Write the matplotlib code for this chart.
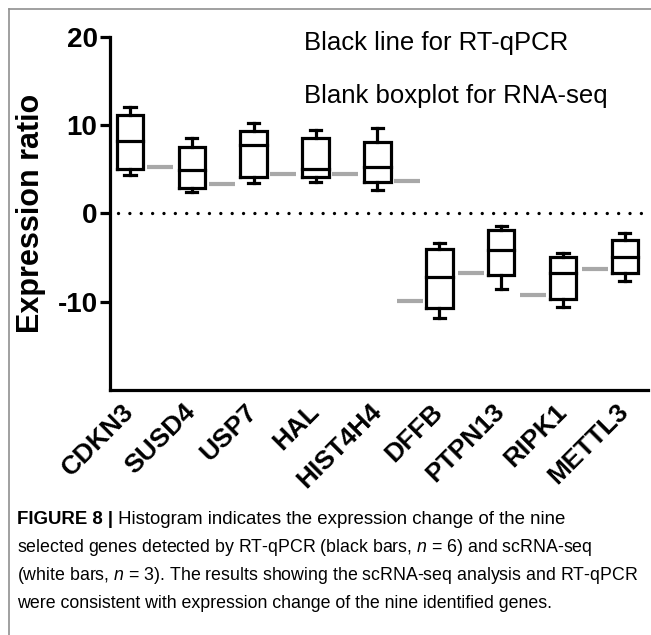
import matplotlib
matplotlib.use("Agg")
import matplotlib.pyplot as plt
from matplotlib import font_manager
from matplotlib.lines import Line2D

genes = ["CDKN3", "SUSD4", "USP7", "HAL", "HIST4H4", "DFFB", "PTPN13", "RIPK1", "METTL3"]
# RNA-seq boxplot stats
whis_hi = [12.1, 8.5, 10.2, 9.5, 9.7, -3.4, -1.4, -4.5, -2.2]
q3 = [11.2, 7.5, 9.3, 8.5, 8.1, -4.0, -1.9, -5.0, -3.0]
med = [8.2, 4.9, 7.7, 5.0, 5.2, -7.2, -4.1, -6.8, -4.9]
q1 = [5.0, 2.9, 4.1, 4.1, 3.5, -10.7, -7.0, -9.7, -6.8]
whis_lo = [4.4, 2.4, 3.4, 3.6, 2.7, -11.8, -8.6, -10.6, -7.7]
# RT-qPCR line values
qpcr = [5.3, 3.3, 4.5, 4.5, 3.7, -9.9, -6.8, -9.2, -6.3]

names = {f.name for f in font_manager.fontManager.ttflist}
cap_font = "Liberation Sans Narrow" if "Liberation Sans Narrow" in names else "Liberation Sans"
plt.rcParams["font.family"] = ["Liberation Sans", "DejaVu Sans"]
plt.rcParams["axes.unicode_minus"] = False
plt.rcParams["mathtext.fontset"] = "custom"
plt.rcParams["mathtext.it"] = cap_font + ":italic"
plt.rcParams["mathtext.rm"] = cap_font

fig = plt.figure(figsize=(6.51, 6.35), dpi=100)
ax = fig.add_axes([0.169, 0.386, 0.826, 0.556])

stats = []
for i in range(len(genes)):
    stats.append({"med": med[i], "q1": q1[i], "q3": q3[i],
                  "whislo": whis_lo[i], "whishi": whis_hi[i], "fliers": []})
lp = dict(color="black", linewidth=2.3, solid_capstyle="projecting", solid_joinstyle="miter")
ax.bxp(stats, positions=range(len(genes)), widths=0.43, capwidths=0.18,
       boxprops=lp, whiskerprops=lp, capprops=lp, medianprops=lp, showfliers=False)

# gray RT-qPCR lines, right of the box for up genes, left for down genes
for i, v in enumerate(qpcr):
    c = i + 0.48 if v > 0 else i - 0.48
    ax.plot([c - 0.21, c + 0.21], [v, v], color="#a8a8a8", lw=3, solid_capstyle="butt")

ax.plot([-0.2, 8.37], [0, 0], color="black", lw=2.4, linestyle=(0, (0.01, 3.4)),
        dash_capstyle="round")

ax.set_xlim(-0.323, 8.37)
ax.set_ylim(-20, 20)
ax.set_yticks([-10, 0, 10, 20])
ax.set_xticks(range(len(genes)))
ax.set_xticklabels(genes, rotation=45, ha="right", va="center", rotation_mode="anchor",
                   fontsize=19, fontweight="bold")
for lab in ax.get_yticklabels():
    lab.set_fontsize(20)
    lab.set_fontweight("bold")
ax.tick_params(axis="y", length=7, width=2.3, pad=2)
ax.tick_params(axis="x", length=0, pad=13)
ax.spines["top"].set_visible(False)
ax.spines["right"].set_visible(False)
ax.spines["left"].set_linewidth(2.3)
ax.spines["bottom"].set_linewidth(2.3)
ax.set_ylabel("Expression ratio", fontsize=22, fontweight="bold", labelpad=8)

ax.text(2.82, 19.3, "Black line for RT-qPCR", fontsize=18.5, va="center")
ax.text(2.82, 13.3, "Blank boxplot for RNA-seq", fontsize=18.5, va="center")

# panel frame
fig.add_artist(Line2D([9 / 651, 1], [1 - 9 / 635, 1 - 9 / 635], color="#909090", lw=1.2))
fig.add_artist(Line2D([9 / 651, 9 / 651], [0, 1 - 9 / 635], color="#909090", lw=1.2))

# caption
cap_size = 14.5 if cap_font != "Liberation Sans" else 12.8
t1 = fig.text(17 / 651, 1 - 519 / 635, "FIGURE 8 |", family=cap_font, fontweight="bold",
              fontsize=cap_size + 0.6, va="center")
ax.annotate(" Histogram indicates the expression change of the nine", xy=(1, 0),
            xycoords=t1, va="bottom", ha="left", family=cap_font, fontsize=cap_size + 0.6,
            annotation_clip=False)
lines = ["selected genes detected by RT-qPCR (black bars, $n$ = 6) and scRNA-seq",
         "(white bars, $n$ = 3). The results showing the scRNA-seq analysis and RT-qPCR",
         "were consistent with expression change of the nine identified genes."]
for k, s in enumerate(lines):
    fig.text(17 / 651, 1 - (547 + 28 * k) / 635, s, family=cap_font, fontsize=cap_size,
             va="center")

fig.savefig("out.png", dpi=100)
